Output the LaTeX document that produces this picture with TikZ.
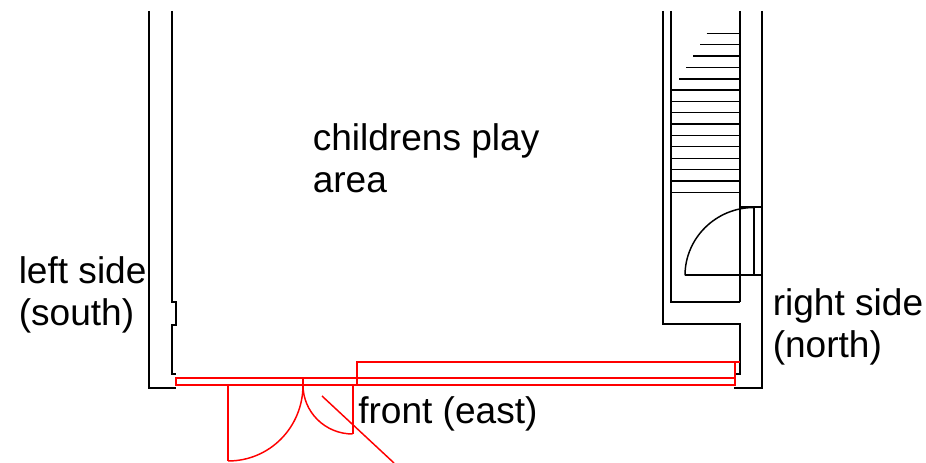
\documentclass[tikz,border=0pt]{standalone}
\usepackage{fontspec}
\setmainfont{Liberation Sans}

\tikzset{
  wall/.style={draw=black, line width=1.5pt},
  tread/.style={draw=black, line width=1.1pt},
  redwall/.style={draw=red, line width=1.5pt},
  redthin/.style={draw=red, line width=1.1pt},
  label/.style={anchor=base west, inner sep=0pt, align=left, font=\fontsize{27.8}{32}\selectfont}
}

\begin{document}
\begin{tikzpicture}[x=0.75pt,y=-0.75pt]

\useasboundingbox (0,0) rectangle (926,463);

\path[wall] (149,11) -- (149,388.5) -- (176,388.5);
\path[wall] (171.5,11) -- (171.5,302) -- (175.7,302) -- (175.7,325) -- (171.5,325) -- (171.5,374) -- (176,374);

\path[wall] (663,11) -- (663,324.5) -- (739.5,324.5) -- (739.5,374) -- (735,374);
\path[wall] (671,11) -- (671,302) -- (739.5,302);
\path[wall] (739.5,11) -- (739.5,302);
\path[wall] (761.5,11) -- (761.5,388.5) -- (734,388.5);

\foreach \ypos/\xpos in {33.3/706.7, 44.7/700, 56/693, 67.7/686, 79/679.3, 90/672,
  101.3/671, 112.7/671, 124/671, 135.3/671, 146.7/671, 158.3/671, 169.7/671, 181/671, 192.3/671}
  \path[tread] (\xpos,\ypos) -- (739.5,\ypos);

\path[wall] (739.5,207.5) -- (761.5,207.5);
\path[tread] (754,207.5) -- (754,275.5);
\path[wall] (685,275.5) -- (761.5,275.5);
\path[tread] (685,275.5) .. controls (685,238) and (716,207.5) .. (754,207.5);

\path[redwall] (175.5,378) rectangle (735,385);
\path[draw=red, line width=2.1pt] (175.5,385) -- (735,385);
\path[redwall] (357,385) -- (357,362.5) -- (740,362.5);
\path[redwall] (735,362.5) -- (735,385);

\path[redwall] (228,385) -- (228,461);
\path[redthin] (228,461) .. controls (270,461) and (303,427) .. (303,385);
\path[redwall] (303,378) -- (303,385);
\path[redthin] (303,385) .. controls (303,412) and (325,434) .. (352.7,434);
\path[redwall] (352.7,434) -- (352.7,385);
\path[redthin] (322,396) -- (394,463);

\node[label] (play) at (312.5,193) {childrens play\\area};
\node[label] (left) at (18.5,326) {left side\\(south)};
\node[label] (right) at (772.5,358) {right side\\(north)};
\node[label] (front) at (358,424) {front (east)};

\end{tikzpicture}
\end{document}
